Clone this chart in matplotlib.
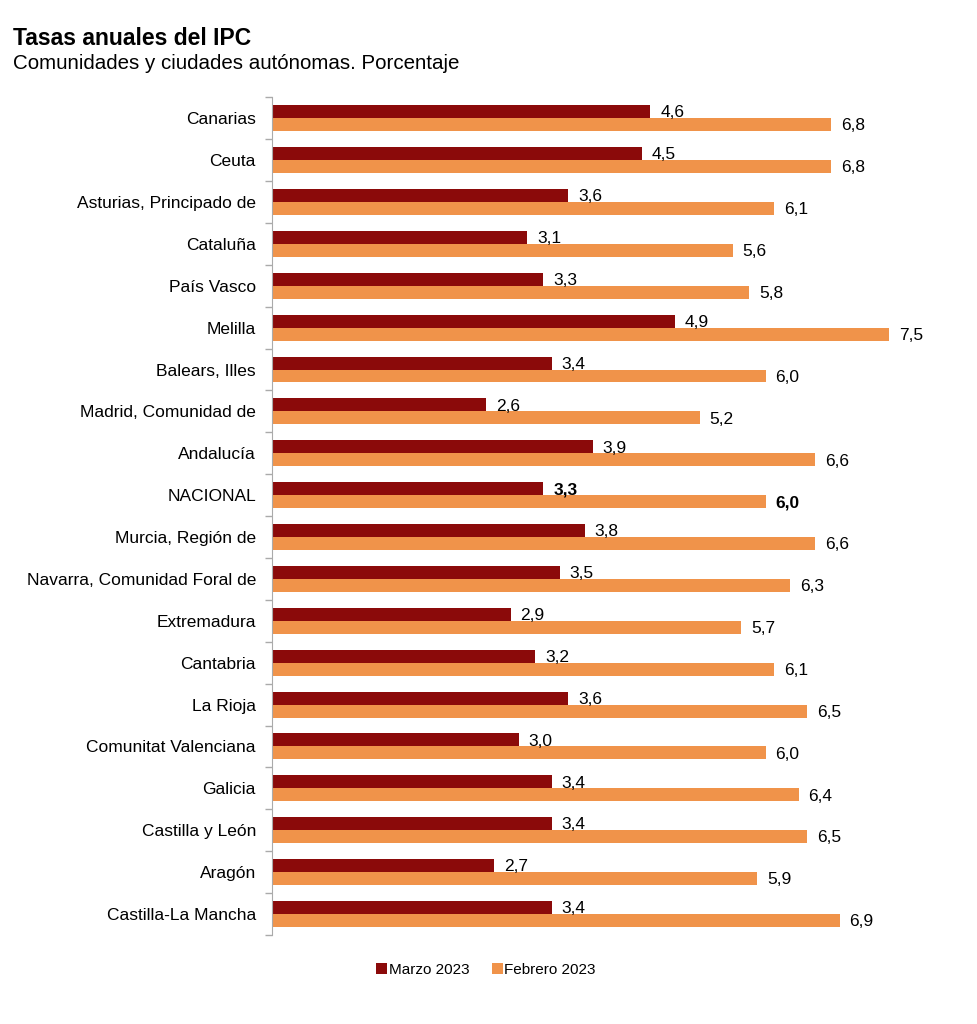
import matplotlib
matplotlib.use("Agg")
import matplotlib.pyplot as plt
import numpy as np

categories = ["Canarias", "Ceuta", "Asturias, Principado de", "Cataluña", "País Vasco",
              "Melilla", "Balears, Illes", "Madrid, Comunidad de", "Andalucía", "NACIONAL",
              "Murcia, Región de", "Navarra, Comunidad Foral de", "Extremadura", "Cantabria",
              "La Rioja", "Comunitat Valenciana", "Galicia", "Castilla y León", "Aragón",
              "Castilla-La Mancha"]
marzo = [4.6, 4.5, 3.6, 3.1, 3.3, 4.9, 3.4, 2.6, 3.9, 3.3, 3.8, 3.5, 2.9, 3.2, 3.6, 3.0, 3.4, 3.4, 2.7, 3.4]
febrero = [6.8, 6.8, 6.1, 5.6, 5.8, 7.5, 6.0, 5.2, 6.6, 6.0, 6.6, 6.3, 5.7, 6.1, 6.5, 6.0, 6.4, 6.5, 5.9, 6.9]
series_names = ["Marzo 2023", "Febrero 2023"]

plt.rcParams['font.family'] = ['Liberation Sans', 'DejaVu Sans']

c_mar = "#8B0A0A"
c_feb = "#F0934A"

fig = plt.figure(figsize=(9.78, 10.24), dpi=100)
ax = fig.add_axes([0.278, 0.087, 0.69, 0.818])

n = len(categories)
y = np.arange(n)
h = 0.31
ax.barh(y - h / 2, marzo, height=h, color=c_mar, label=series_names[0])
ax.barh(y + h / 2, febrero, height=h, color=c_feb, label=series_names[1])

def fmt(v):
    return f"{v:.1f}".replace(".", ",")

for i in range(n):
    w = 'bold' if categories[i] == "NACIONAL" else 'normal'
    ax.text(marzo[i] + 0.12, y[i] - h / 2 + 0.03, fmt(marzo[i]), va='center', ha='left', fontsize=12.5, fontweight=w)
    ax.text(febrero[i] + 0.12, y[i] + h / 2 + 0.03, fmt(febrero[i]), va='center', ha='left', fontsize=12.5, fontweight=w)

ax.set_ylim(n - 0.5, -0.5)
ax.set_xlim(0, 8.2)
ax.set_yticks(y)
ax.set_yticklabels(categories, fontsize=12.5)
ax.tick_params(axis='y', which='major', length=0, pad=11.5)
ax.set_yticks(np.arange(-0.5, n, 1), minor=True)
ax.tick_params(axis='y', which='minor', length=5, color='#AAAAAA', width=1)
ax.set_xticks([])
for s in ['top', 'right', 'bottom']:
    ax.spines[s].set_visible(False)
ax.spines['left'].set_color('#AAAAAA')

fig.text(0.013, 0.962, "Tasas anuales del IPC", fontsize=16.5, fontweight='bold', va='center')
fig.text(0.013, 0.938, "Comunidades y ciudades autónomas. Porcentaje", fontsize=14.8, va='center')

leg = fig.legend(loc='center', bbox_to_anchor=(0.497, 0.053), ncol=2, frameon=False,
                 fontsize=11, handlelength=0.7, handleheight=0.7, handletextpad=0.1, columnspacing=1.5)

fig.savefig("out.png", dpi=100)
